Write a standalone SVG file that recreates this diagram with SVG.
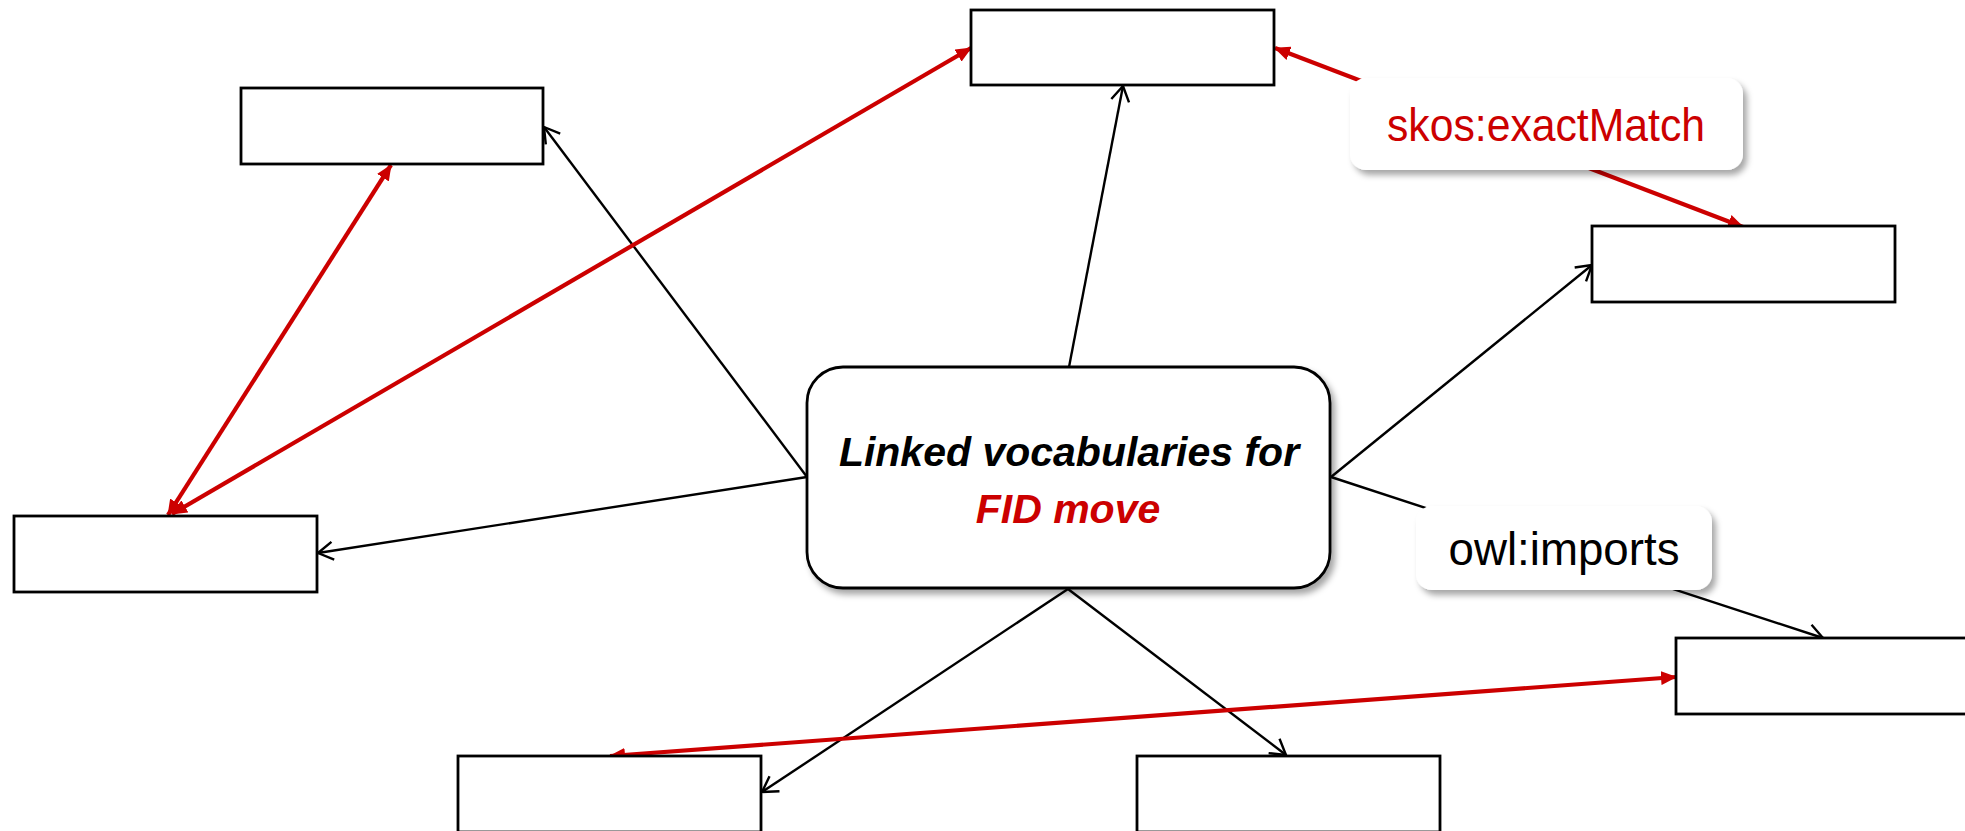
<svg xmlns="http://www.w3.org/2000/svg" width="1965" height="831" viewBox="0 0 1965 831">
<style>
.box{fill:#fff;stroke:#000;stroke-width:2.8}
.blk{stroke:#000;stroke-width:2.4;fill:none}
.red{stroke:#cc0000;stroke-width:4.2;fill:none}
.lbl{fill:#fff;stroke:none}
.main{font-family:"Liberation Sans",Arial,sans-serif;font-weight:bold;font-style:italic;font-size:41px;text-anchor:middle}
.lt{font-family:"Liberation Sans",Arial,sans-serif;font-size:46px;text-anchor:middle}
</style>
<defs>
<filter id="sh" x="-10%" y="-10%" width="130%" height="140%">
<feDropShadow dx="4" dy="5" stdDeviation="3" flood-color="#000" flood-opacity="0.35"/>
</filter>
<marker id="ra" markerUnits="userSpaceOnUse" viewBox="0 0 16 14" markerWidth="16" markerHeight="14" refX="15" refY="7" orient="auto-start-reverse">
<path d="M0,0 L16,7 L0,14 z" fill="#cc0000"/>
</marker>
<marker id="ba" markerUnits="userSpaceOnUse" viewBox="-2 -2 20 22" markerWidth="20" markerHeight="22" refX="15" refY="9" orient="auto" overflow="visible">
<path d="M0,0 L15,9 L0,18" fill="none" stroke="#000" stroke-width="2.4"/>
</marker>
</defs>
<g id="connectors">
<line class="blk" x1="807" y1="477" x2="544" y2="127" marker-end="url(#ba)"/>
<line class="blk" x1="807" y1="477" x2="318" y2="553" marker-end="url(#ba)"/>
<line class="blk" x1="1069" y1="367" x2="1123" y2="86" marker-end="url(#ba)"/>
<line class="blk" x1="1331" y1="477" x2="1592" y2="265" marker-end="url(#ba)"/>
<line class="blk" x1="1331" y1="477" x2="1823" y2="638" marker-end="url(#ba)"/>
<line class="blk" x1="1068" y1="589" x2="762" y2="792" marker-end="url(#ba)"/>
<line class="blk" x1="1068" y1="589" x2="1286" y2="755" marker-end="url(#ba)"/>
<line class="red" x1="172" y1="514" x2="971" y2="48" marker-start="url(#ra)" marker-end="url(#ra)"/>
<line class="red" x1="168" y1="515" x2="391" y2="165" marker-start="url(#ra)" marker-end="url(#ra)"/>
<line class="red" x1="1275" y1="48" x2="1743" y2="227" marker-start="url(#ra)" marker-end="url(#ra)"/>
<line class="red" x1="610" y1="756" x2="1676" y2="677" marker-start="url(#ra)" marker-end="url(#ra)"/>
<g id="label-exactMatch">
<rect class="lbl" x="1350" y="78" width="393" height="92" rx="16" filter="url(#sh)"/>
<text class="lt" x="1546" y="141" fill="#cc0000" textLength="318" lengthAdjust="spacingAndGlyphs">skos:exactMatch</text>
</g>
<g id="label-imports">
<rect class="lbl" x="1416" y="506" width="296" height="84" rx="16" filter="url(#sh)"/>
<text class="lt" x="1564" y="565" fill="#000" textLength="231" lengthAdjust="spacingAndGlyphs">owl:imports</text>
</g>
</g>
<g id="center">
<rect x="807" y="367" width="523" height="221" rx="36" fill="#fff" stroke="#000" stroke-width="2.8" filter="url(#sh)"/>
<text class="main" x="1069" y="466" fill="#000">Linked vocabularies for</text>
<text class="main" x="1068" y="523" fill="#cc0000">FID move</text>
</g>
<g id="n-top"><rect class="box" x="971" y="10" width="303" height="75"/></g>
<g id="n-topleft"><rect class="box" x="241" y="88" width="302" height="76"/></g>
<g id="n-left"><rect class="box" x="14" y="516" width="303" height="76"/></g>
<g id="n-right"><rect class="box" x="1592" y="226" width="303" height="76"/></g>
<g id="n-bottomright"><rect class="box" x="1676" y="638" width="303" height="76"/></g>
<g id="n-bottomleft"><rect class="box" x="458" y="756" width="303" height="76"/></g>
<g id="n-bottom"><rect class="box" x="1137" y="756" width="303" height="76"/></g>
</svg>
